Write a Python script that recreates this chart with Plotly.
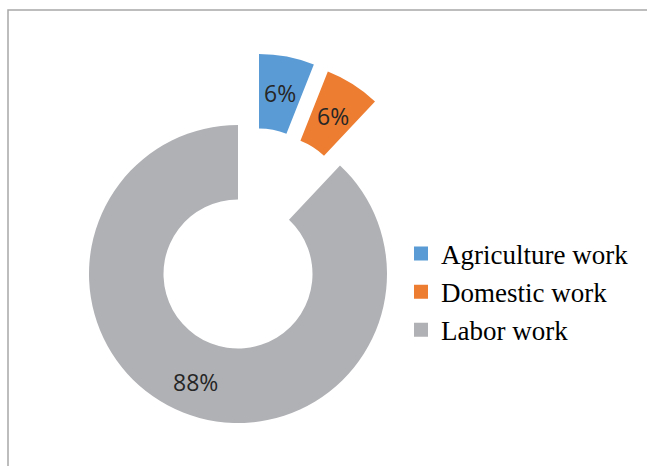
import math
import plotly.graph_objects as go

# Share of working children by type of work (%)
categories = ["Agriculture work", "Domestic work", "Labor work"]
shares = [6, 6, 88]
colors = ["#5B9BD5", "#ED7D31", "#B0B1B5"]

W, H = 647, 466
CX, CY = 238, 274          # ring centre (px from top-left)
R = 149                    # outer radius (px)
HOLE = 0.5
# exploded offsets of each slice (px, +x right, +y down)
explode = [(21, -71), (35, -64), (0, 0)]

TRANSPARENT = "rgba(0,0,0,0)"

fig = go.Figure()
annotations = []
total = sum(shares)
cum = 0

# one ring per slice so each slice can be moved on its own
for i, (dx, dy) in enumerate(explode):
    cx, cy = CX + dx, CY + dy
    slice_colors = [colors[j] if j == i else TRANSPARENT for j in range(len(shares))]
    fig.add_trace(go.Pie(
        labels=categories,
        values=shares,
        sort=False,
        direction="clockwise",
        rotation=0,
        hole=HOLE,
        marker=dict(colors=slice_colors, line=dict(width=0)),
        textinfo="none",
        domain=dict(x=[(cx - R) / W, (cx + R) / W],
                    y=[(H - cy - R) / H, (H - cy + R) / H]),
        showlegend=False,
        hoverinfo="skip",
    ))

    # percentage label at the middle of the slice
    mid = 2 * math.pi * (cum + shares[i] / 2) / total
    rr = R * (1 + HOLE) / 2 + (4 if shares[i] > 50 else 0)
    lx = cx + rr * math.sin(mid)
    ly = cy - rr * math.cos(mid)
    annotations.append(dict(
        x=lx / W, y=(H - ly) / H, xref="paper", yref="paper",
        text=f"{round(100 * shares[i] / total)}%", showarrow=False,
        xanchor="center", yanchor="middle",
        font=dict(family="Open Sans", size=23, color="#262626"),
    ))
    cum += shares[i]

# legend entries
for name, col in zip(categories, colors):
    fig.add_trace(go.Scatter(
        x=[None], y=[None], mode="markers", name=name,
        marker=dict(symbol="square", size=14, color=col),
    ))

fig.update_layout(
    width=W, height=H,
    margin=dict(l=0, r=0, t=0, b=0),
    paper_bgcolor="white", plot_bgcolor="white",
    xaxis=dict(visible=False), yaxis=dict(visible=False),
    annotations=annotations,
    legend=dict(
        x=401 / W, xanchor="left", y=(H - 292) / H, yanchor="middle",
        font=dict(family="Liberation Serif", size=27, color="#000000"),
        bgcolor="rgba(0,0,0,0)", tracegroupgap=0,
    ),
    shapes=[dict(
        type="rect", xref="paper", yref="paper",
        x0=8 / W, x1=1.05, y0=-0.05, y1=(H - 10) / H,
        line=dict(color="#A8A8A8", width=1.5), layer="above",
    )],
)

fig.write_html("out.html")
